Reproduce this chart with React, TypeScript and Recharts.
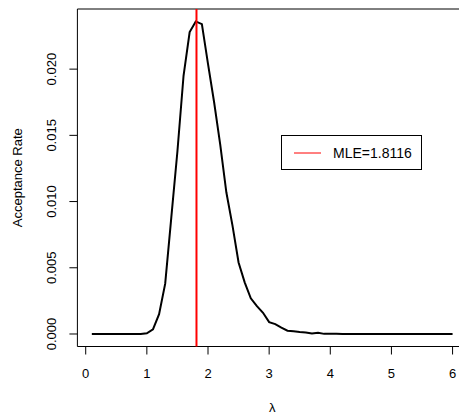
import React from "react";
import {
    LineChart, Line, XAxis, YAxis, ReferenceLine, ReferenceArea, Legend
} from 'recharts';

const lambda = [
    0.1, 0.2, 0.3, 0.4, 0.5, 0.6, 0.7, 0.8, 0.9, 1.0,
    1.1, 1.2, 1.3, 1.4, 1.5, 1.6, 1.7, 1.8, 1.9, 2.0,
    2.1, 2.2, 2.3, 2.4, 2.5, 2.6, 2.7, 2.8, 2.9, 3.0,
    3.1, 3.2, 3.3, 3.4, 3.5, 3.6, 3.7, 3.8, 3.9, 4.0,
    4.1, 4.2, 4.3, 4.4, 4.5, 4.6, 4.7, 4.8, 4.9, 5.0,
    5.1, 5.2, 5.3, 5.4, 5.5, 5.6, 5.7, 5.8, 5.9, 6.0,
];
const acceptance = [
    0, 0, 0, 0, 0, 0, 0, 0, 0, 0.00005,
    0.00035, 0.0015, 0.0038, 0.0088, 0.0138, 0.0195, 0.0228, 0.0236, 0.0234, 0.0204,
    0.0175, 0.0143, 0.0107, 0.0082, 0.0054, 0.0039, 0.0027, 0.0021, 0.0016, 0.0009,
    0.00075, 0.00048, 0.00025, 0.0002, 0.00015, 0.00012, 0.00004, 0.0001, 0.00001, 0.00002,
    0.00001, 0, 0, 0, 0, 0, 0, 0, 0, 0,
    0, 0, 0, 0, 0, 0, 0, 0, 0, 0,
];
const xTicks = [0, 1, 2, 3, 4, 5, 6];
const yTicks = [0, 0.005, 0.01, 0.015, 0.02];
const mle = 1.8116;

// R-style axis limits (4% padding)
const xDomain = [-0.136, 6.236];
const yDomain = [-0.000944, 0.02454];

const data = lambda.map((l, i) => ({ lambda: l, rate: acceptance[i] }));

const font = '"Liberation Sans", Arial, Helvetica, sans-serif';

function YTick(props: any) {
    const { x, y, payload } = props;
    return <text x={x - 2} y={y} transform={`rotate(-90, ${x - 2}, ${y})`} textAnchor="middle"
        fontSize={13} fontFamily={font} fill="#000">
        {payload.value.toFixed(3)}
    </text>
}

function renderLegend() {
    return <svg width={141} height={35}>
        <rect x={0.5} y={0.5} width={140} height={34} fill="#fff" stroke="#000" />
        <line x1={13} x2={40} y1={18} y2={18} stroke="#ff0000" strokeWidth={1} />
        <text x={52} y={23} fontSize={14} fontFamily={font} fill="#000">{`MLE=${mle}`}</text>
    </svg>
}

export default function App() {
    return <div style={{ position: 'absolute', left: 0, top: 0, width: 459, height: 415, overflow: 'hidden', background: '#fff' }}>
        <LineChart width={480} height={415} data={data}
            margin={{ top: 9, right: 13, bottom: 38.5, left: 17.4 }}>
            <XAxis dataKey="lambda" type="number" domain={xDomain} ticks={xTicks} allowDataOverflow
                axisLine={false} tickSize={8} tickMargin={14} tickLine={{ stroke: '#000' }}
                tick={{ fontSize: 13, fontFamily: font, fill: '#000' }}
                label={{
                    content: (p: any) => {
                        const vb = p.viewBox;
                        return <text x={vb.x + vb.width / 2} y={vb.y + 65} textAnchor="middle"
                            fontSize={13} fontFamily={font} fill="#000">λ</text>
                    }
                }} />
            <YAxis type="number" domain={yDomain} ticks={yTicks} allowDataOverflow width={60}
                axisLine={false} tickSize={8} tickMargin={11} tickLine={{ stroke: '#000' }}
                tick={<YTick />}
                label={{
                    content: (p: any) => {
                        const vb = p.viewBox;
                        const cx = vb.x + 4.6;
                        const cy = vb.y + vb.height / 2;
                        return <text x={cx} y={cy} transform={`rotate(-90, ${cx}, ${cy})`} textAnchor="middle"
                            fontSize={13} fontFamily={font} fill="#000">Acceptance Rate</text>
                    }
                }} />
            <ReferenceArea x1={xDomain[0]} x2={xDomain[1]} y1={yDomain[0]} y2={yDomain[1]}
                fill="none" stroke="#000" strokeWidth={1} />
            <Line type="linear" dataKey="rate" stroke="#000" strokeWidth={2} dot={false}
                isAnimationActive={false} />
            <ReferenceLine x={mle} stroke="#ff0000" strokeWidth={2} />
            <Legend layout="vertical" align="center" verticalAlign="middle" content={renderLegend}
                wrapperStyle={{ left: 281, top: 135, width: 141, height: 35 }} />
        </LineChart>
    </div>
}
